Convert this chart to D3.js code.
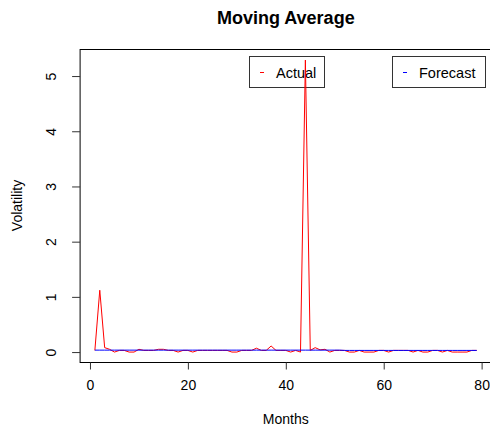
<html>
<head>
<meta charset="utf-8">
<title>Moving Average</title>
<script src="https://d3js.org/d3.v7.min.js"></script>
<style>
    body { margin: 0; background: #fff; }
    text { font-family: "Liberation Sans", Arial, sans-serif; fill: #000; }
    .line-actual { fill: none; stroke: #ff0000; stroke-width: 1px; }
    .line-forecast { fill: none; stroke: #0000ff; stroke-width: 1px; }
    .axis text { font-size: 14px; }
    .axis line { stroke: #333; }
</style>
</head>
<body>
<script>
    // chart data
    var months = d3.range(1, 80);
    var actual = [
        0.03, 1.12, 0.08, 0.05, 0.00, 0.03, 0.03, 0.00, 0.00, 0.05,
        0.03, 0.03, 0.03, 0.05, 0.05, 0.03, 0.03, 0.00, 0.03, 0.03,
        0.00, 0.03, 0.03, 0.03, 0.03, 0.03, 0.03, 0.03, 0.00, 0.00,
        0.03, 0.03, 0.03, 0.07, 0.03, 0.03, 0.11, 0.03, 0.03, 0.03,
        0.00, 0.03, 0.00, 5.29, 0.03, 0.08, 0.04, 0.05, 0.00, 0.03,
        0.03, 0.03, 0.00, 0.00, 0.03, 0.00, 0.00, 0.00, 0.03, 0.03,
        0.00, 0.03, 0.03, 0.03, 0.03, 0.00, 0.03, 0.00, 0.00, 0.03,
        0.03, 0.00, 0.03, 0.00, 0.00, 0.00, 0.00, 0.03, 0.03
    ];
    var forecast = [
        0.035, 0.035, 0.035, 0.035, 0.035, 0.035, 0.035, 0.035, 0.035, 0.035,
        0.035, 0.035, 0.035, 0.035, 0.035, 0.035, 0.035, 0.035, 0.035, 0.035,
        0.035, 0.035, 0.035, 0.035, 0.035, 0.035, 0.035, 0.035, 0.035, 0.035,
        0.035, 0.035, 0.035, 0.035, 0.035, 0.035, 0.035, 0.035, 0.035, 0.035,
        0.035, 0.035, 0.035, 0.035, 0.035, 0.035, 0.035, 0.035, 0.035, 0.035,
        0.035, 0.03, 0.03, 0.03, 0.03, 0.03, 0.03, 0.03, 0.03, 0.03,
        0.03, 0.03, 0.03, 0.03, 0.03, 0.03, 0.03, 0.03, 0.03, 0.03,
        0.03, 0.03, 0.03, 0.03, 0.03, 0.03, 0.03, 0.03, 0.03
    ];
    var xTicks = [0, 20, 40, 60, 80];
    var yTicks = [0, 1, 2, 3, 4, 5];
    var legendNames = ["Actual", "Forecast"];
    var legendColors = ["#ff0000", "#0000ff"];

    var W = 490, H = 427;
    // plot region (R style, runs off the right edge)
    var plot = { left: 79.6, right: 492, top: 49, bottom: 362 };
    // legend boxes [left, right]
    var legendBoxes = [[249, 324], [392, 485]];

    var svg = d3.select("body").append("svg")
        .attr("width", W)
        .attr("height", H);

    // scales, x padded 4% like R
    var x = d3.scaleLinear().domain([-2.12, 82.12]).range([plot.left, plot.right]);
    var y = d3.scaleLinear().domain([-0.18, 5.49]).range([plot.bottom, plot.top]);

    // legends first, the red spike runs over them in the original
    for (var i = 0; i < legendNames.length; i++) {
        var b = legendBoxes[i];
        svg.append("rect")
            .attr("x", b[0] + 0.5).attr("y", 56.5)
            .attr("width", b[1] - b[0]).attr("height", 31)
            .attr("fill", "#fff").attr("stroke", "#333");
        svg.append("line")
            .attr("x1", b[0] + 11).attr("x2", b[0] + 15)
            .attr("y1", 72.5).attr("y2", 72.5)
            .attr("stroke", legendColors[i]);
        svg.append("text")
            .attr("x", b[0] + 27).attr("y", 77.5)
            .style("font-size", "14.5px")
            .text(legendNames[i]);
    }

    // clip for lines
    svg.append("clipPath").attr("id", "clip")
        .append("rect")
        .attr("x", plot.left).attr("y", plot.top)
        .attr("width", plot.right - plot.left)
        .attr("height", plot.bottom - plot.top);

    var line = d3.line()
        .x(function (d, i) { return x(months[i]); })
        .y(function (d) { return y(d); });

    svg.append("path")
        .attr("class", "line-actual")
        .attr("clip-path", "url(#clip)")
        .attr("d", line(actual));

    svg.append("path")
        .attr("class", "line-forecast")
        .attr("clip-path", "url(#clip)")
        .attr("d", line(forecast));

    // box
    svg.append("rect")
        .attr("x", plot.left + 0.5)
        .attr("y", plot.top + 0.5)
        .attr("width", plot.right - plot.left)
        .attr("height", plot.bottom - plot.top)
        .attr("fill", "none")
        .attr("stroke", "#000");

    // x axis
    var xAxis = svg.append("g")
        .attr("class", "axis")
        .attr("transform", "translate(0," + (plot.bottom + 0.5) + ")")
        .call(d3.axisBottom(x).tickValues(xTicks).tickSize(7).tickPadding(11));
    xAxis.select(".domain").remove();

    // y axis, labels rotated like R
    var yAxis = svg.append("g")
        .attr("class", "axis")
        .attr("transform", "translate(" + (plot.left + 0.5) + ",0)")
        .call(d3.axisLeft(y).tickValues(yTicks).tickFormat(d3.format("d")).tickSize(8));
    yAxis.select(".domain").remove();
    yAxis.selectAll("text")
        .attr("x", 0).attr("y", 0).attr("dy", "0.35em")
        .attr("text-anchor", "middle")
        .attr("transform", "translate(-29,0) rotate(-90)");

    // titles
    svg.append("text")
        .attr("x", (plot.left + plot.right) / 2)
        .attr("y", 24)
        .attr("text-anchor", "middle")
        .style("font-size", "18px")
        .style("font-weight", "bold")
        .text("Moving Average");

    svg.append("text")
        .attr("x", (plot.left + plot.right) / 2)
        .attr("y", 424)
        .attr("text-anchor", "middle")
        .style("font-size", "14px")
        .text("Months");

    svg.append("text")
        .attr("transform", "translate(22," + ((plot.top + plot.bottom) / 2) + ") rotate(-90)")
        .attr("text-anchor", "middle")
        .style("font-size", "14px")
        .text("Volatility");
</script>
</body>
</html>
